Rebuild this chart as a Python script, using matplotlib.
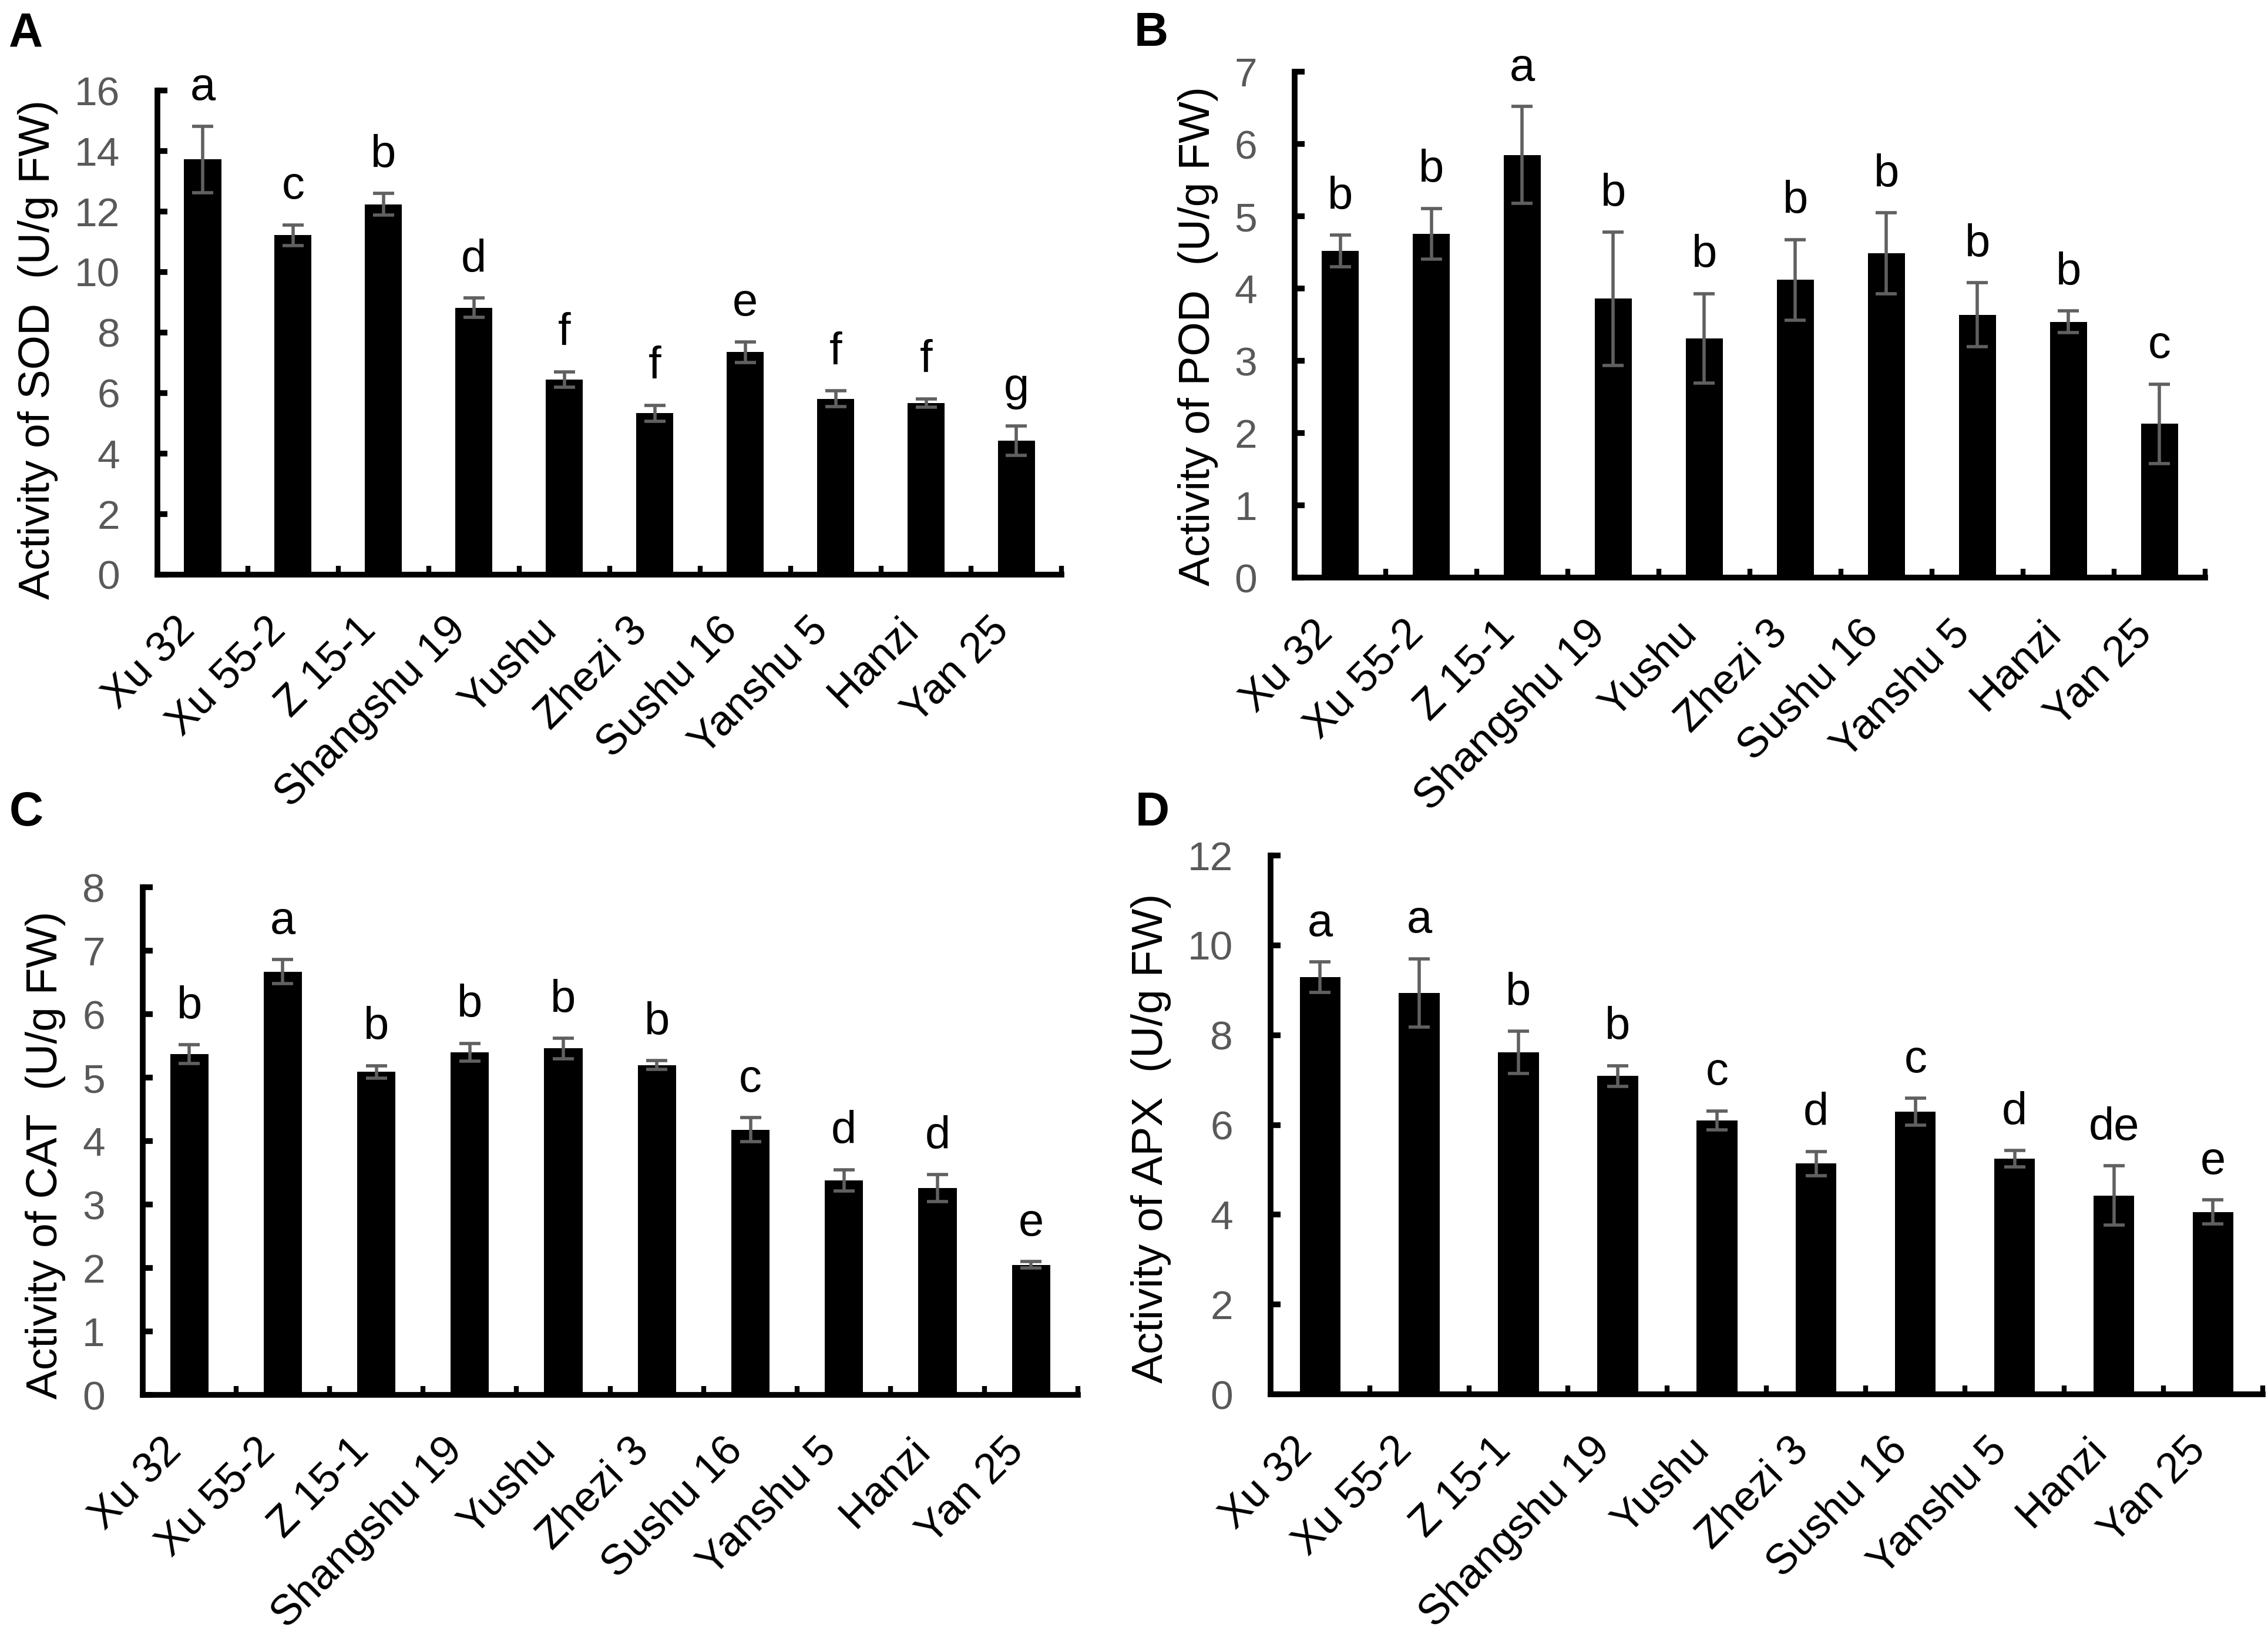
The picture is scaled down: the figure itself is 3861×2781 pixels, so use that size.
import numpy as np
import matplotlib
matplotlib.use('Agg')
import matplotlib.pyplot as plt
from matplotlib.transforms import ScaledTranslation

plt.rcParams['font.family'] = ['Liberation Sans', 'DejaVu Sans']

# cultivars (same order in every panel)
cultivars = ['Xu 32', 'Xu 55-2', 'Z 15-1', 'Shangshu 19', 'Yushu',
             'Zhezi 3', 'Sushu 16', 'Yanshu 5', 'Hanzi', 'Yan 25']

# SOD
sod = [13.72, 11.22, 12.24, 8.82, 6.44, 5.33, 7.35, 5.81, 5.67, 4.42]
sod_err = [1.10, 0.34, 0.36, 0.32, 0.26, 0.26, 0.34, 0.26, 0.14, 0.48]
sod_sig = ['a', 'c', 'b', 'd', 'f', 'f', 'e', 'f', 'f', 'g']

# POD
pod = [4.52, 4.76, 5.85, 3.86, 3.31, 4.12, 4.49, 3.64, 3.54, 2.13]
pod_err = [0.22, 0.35, 0.67, 0.92, 0.62, 0.56, 0.56, 0.44, 0.15, 0.55]
pod_sig = ['b', 'b', 'a', 'b', 'b', 'b', 'b', 'b', 'b', 'c']

# CAT
cat = [5.37, 6.67, 5.09, 5.40, 5.46, 5.20, 4.18, 3.38, 3.26, 2.05]
cat_err = [0.15, 0.19, 0.10, 0.14, 0.16, 0.07, 0.19, 0.17, 0.21, 0.05]
cat_sig = ['b', 'a', 'b', 'b', 'b', 'b', 'c', 'd', 'd', 'e']

# APX
apx = [9.29, 8.94, 7.62, 7.09, 6.10, 5.14, 6.29, 5.25, 4.43, 4.06]
apx_err = [0.34, 0.76, 0.47, 0.23, 0.21, 0.27, 0.30, 0.18, 0.66, 0.27]
apx_sig = ['a', 'a', 'b', 'b', 'c', 'd', 'c', 'd', 'de', 'e']

fig = plt.figure(figsize=(3862 / 200, 2781 / 200), dpi=200)

boxes = {
    'A': [0.0694, 0.6485, 0.3986, 0.2961],
    'B': [0.5707, 0.6465, 0.4013, 0.3095],
    'C': [0.0628, 0.1463, 0.4123, 0.3107],
    'D': [0.5600, 0.1467, 0.4374, 0.3297],
}
panels = [
    ('A', sod, sod_err, sod_sig, 'Activity of SOD  (U/g FW)', 16, 2, 0.464),
    ('B', pod, pod_err, pod_sig, 'Activity of POD  (U/g FW)', 7, 1, 0.477),
    ('C', cat, cat_err, cat_sig, 'Activity of CAT  (U/g FW)', 8, 1, 0.473),
    ('D', apx, apx_err, apx_sig, 'Activity of APX  (U/g FW)', 12, 2, 0.475),
]
letter_pos = {'A': (0.004, 0.993), 'B': (0.500, 0.993),
              'C': (0.004, 0.516), 'D': (0.5005, 0.516)}

x = np.arange(len(cultivars))
grey = '#606060'
shift = ScaledTranslation(5 / 72, 0, fig.dpi_scale_trans)

for name, vals, errs, sig, ylab, ymax, step, ylab_y in panels:
    ax = fig.add_axes(boxes[name])
    ax.bar(x, vals, width=0.41, color='black', zorder=2)
    ax.errorbar(x, vals, yerr=errs, fmt='none', ecolor=grey,
                elinewidth=2, capsize=6.5, capthick=2, zorder=3)
    # significance letters
    for xi, v, e, s in zip(x, vals, errs, sig):
        ax.annotate(s, (xi, v + e), xytext=(0, 16), textcoords='offset points',
                    ha='center', va='baseline', fontsize=28)

    ax.set_xlim(-0.5, len(cultivars) - 0.5)
    ax.set_ylim(0, ymax)
    ax.set_yticks(np.arange(0, ymax + 0.01, step))
    ax.set_xticks(x)
    ax.set_xticklabels(cultivars, rotation=45, ha='right', fontsize=26)
    for lab in ax.get_xticklabels():
        lab.set_transform(lab.get_transform() + shift)
    ax.set_xticks(np.arange(0.5, len(cultivars), 1), minor=True)

    for sp in ['top', 'right']:
        ax.spines[sp].set_visible(False)
    for sp in ['left', 'bottom']:
        ax.spines[sp].set_linewidth(3.5)

    ax.tick_params(axis='x', which='major', length=0, pad=22)
    ax.tick_params(axis='x', which='minor', direction='in', length=5.5, width=3)
    ax.tick_params(axis='y', direction='in', length=6, width=3.5,
                   labelsize=25, labelcolor='#595959', pad=23)
    ax.set_ylabel(ylab, fontsize=27, labelpad=10)
    ax.yaxis.label.set_y(ylab_y)

    fig.text(letter_pos[name][0], letter_pos[name][1], name, ha='left', va='top',
             fontsize=29, fontweight='bold')

fig.savefig('out.png', dpi=200)
